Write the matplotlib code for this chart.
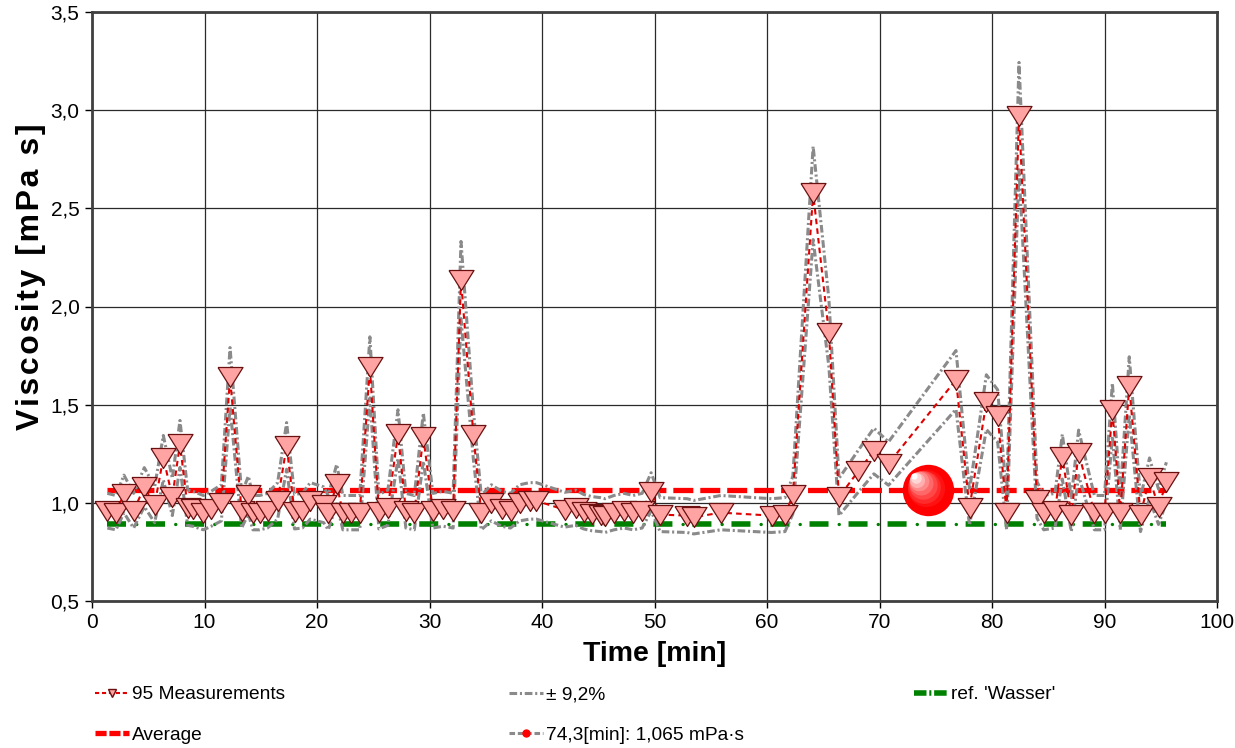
import numpy as np
import matplotlib.pyplot as plt
from matplotlib.lines import Line2D
from matplotlib.transforms import offset_copy

plt.rcParams['font.family'] = ['Liberation Sans', 'DejaVu Sans']
plt.rcParams['lines.scale_dashes'] = False

# Messzeitpunkte [min] und Viskositaet [mPa s]
zeit = [1.36, 2.13, 2.84, 3.7, 4.65, 5.57, 6.34, 7.14, 7.82, 8.5,
        8.95, 9.9, 10.6, 11.5, 12.27, 13.3, 13.9, 14.3, 14.9, 15.6,
        16.5, 17.3, 18.0, 18.7, 19.4, 20.6, 21.0, 21.75, 22.3, 23.0,
        23.8, 24.7, 25.5, 26.3, 27.2, 27.9, 28.65, 29.45, 30.3, 31.2,
        32.1, 32.8, 33.9, 34.6, 35.5, 36.4, 37.2, 38.0, 38.9, 39.5,
        42.0, 43.0, 43.7, 44.4, 45.2, 45.6, 46.4, 47.3, 48.1, 48.9,
        49.7, 50.5, 52.9, 53.5, 55.9, 60.4, 61.6, 62.3, 64.1, 65.5,
        66.4, 68.1, 69.5, 70.8, 76.8, 78.0, 79.5, 80.5, 81.3, 82.4,
        84.0, 84.6, 85.6, 86.25, 87.05, 87.7, 89.1, 90.0, 90.7, 91.4,
        92.2, 93.2, 94.0, 94.8, 95.5]
visko = [0.96, 0.95, 1.045, 0.96, 1.08, 0.99, 1.23, 1.03, 1.30, 0.975,
         0.97, 0.95, 0.97, 1.0, 1.64, 0.96, 1.04, 0.95, 0.95, 0.96,
         1.01, 1.29, 0.955, 0.96, 1.01, 0.99, 0.95, 1.095, 0.95, 0.95,
         0.95, 1.69, 0.955, 0.975, 1.35, 0.96, 0.95, 1.335, 0.96, 0.97,
         0.96, 2.135, 1.346, 0.95, 1.0, 0.97, 0.96, 1.0, 1.01, 1.01,
         0.965, 0.975, 0.955, 0.945, 0.94, 0.935, 0.95, 0.96, 0.95, 0.96,
         1.056, 0.94, 0.935, 0.927, 0.95, 0.935, 0.94, 1.04, 2.578, 1.866,
         1.03, 1.16, 1.264, 1.2, 1.626, 0.975, 1.513, 1.443, 0.95, 2.97,
         1.015, 0.95, 0.96, 1.235, 0.94, 1.255, 0.95, 0.95, 1.474, 0.95,
         1.597, 0.94, 1.125, 0.98, 1.105]
mittel = 1.065
wasser = 0.89
band = 0.092
t_punkt = 74.3

t = np.array(zeit)
v = np.array(visko)

fig = plt.figure(figsize=(12.35, 7.48), dpi=100)
ax = fig.add_axes([92 / 1235, 1 - 601 / 748, (1217 - 92) / 1235, (601 - 12) / 748])

# Referenz Wasser: dicke Striche + kleine Punkte
ax.plot([t.min(), t.max()], [wasser, wasser], color='#008000', lw=4.0,
        linestyle=(0, (13.7, 14.4)), solid_capstyle='butt', zorder=2)
ax.plot([t.min(), t.max()], [wasser, wasser], color='#008000', lw=2.4,
        linestyle=(7.1, (0.1, 28.0)), dash_capstyle='round', zorder=2)

# Mittelwert
ax.plot([t.min(), t.max()], [mittel, mittel], color='#ff0000', lw=3.8,
        linestyle=(0, (14.4, 5.0)), zorder=3)

# Toleranzband
for f in (1 + band, 1 - band):
    ax.plot(t, v * f, color='#8a8a8a', lw=2.2,
            linestyle=(0, (5.5, 2.0, 1.5, 2.0)), zorder=4)

# Messungen
dreieck = [(-1, 0.8), (1, 0.8), (0, -0.8), (-1, 0.8)]
ax.plot(t, v, color='#e00000', lw=1.5, linestyle=(0, (4, 3)), zorder=5)
ax.plot(t, v, linestyle='none', marker=dreieck, markersize=18,
        mfc='#ffa3a3', mec='#6b1010', mew=0.9, zorder=6)

# Kugel beim Mittelwert
ax.plot([t_punkt], [mittel], 'o', markersize=37, color='#ff0000', mew=0, zorder=7)
for i in range(1, 9):
    f = i / 8
    tr = offset_copy(ax.transData, fig=fig, x=-10 * f, y=10 * f, units='points')
    ax.plot([t_punkt], [mittel], 'o', markersize=30 * (1 - 0.85 * f),
            color=(1, f ** 1.3, f ** 1.3), mew=0, transform=tr, zorder=7 + i)

ax.set_xlim(0, 100)
ax.set_ylim(0.5, 3.5)
ax.set_xticks(range(0, 101, 10))
yt = np.arange(0.5, 3.51, 0.5)
ax.set_yticks(yt)
ax.set_yticklabels([f'{y:.1f}'.replace('.', ',') for y in yt])
ax.tick_params(direction='out', length=5, width=1, labelsize=15, pad=4)
ax.grid(color='#2a2a2a', lw=0.9)
ax.set_axisbelow(True)
for s in ax.spines.values():
    s.set_color('#404040')
    s.set_linewidth(2)

ax.set_xlabel('Time [min]', fontsize=20.5, fontweight='bold', labelpad=6)
# y-Beschriftung leicht gesperrt wie im Original
ylab = '\u200a'.join('Viscosity [mPa s]')
fig.text(31 / 1235, 1 - 277 / 748, ylab, rotation=90, ha='center', va='center',
         fontsize=23, fontweight='bold')

# Legende
h_mess = Line2D([], [], color='#e00000', lw=1.5, linestyle=(0, (3, 2)),
                marker='v', markersize=6, mfc='#ffa3a3', mec='#6b1010')
h_mittel = Line2D([], [], color='#ff0000', lw=3.8, linestyle=(0, (8, 2)))
h_band = Line2D([], [], color='#8a8a8a', lw=2.2, linestyle=(0, (5.5, 2.0, 1.5, 2.0)))
h_punkt = Line2D([], [], color='#8a8a8a', lw=2.2, linestyle=(0, (4, 2)),
                 marker='o', markersize=5, mfc='#ff0000', mec='#ff0000')
h_wasser = Line2D([], [], color='#008000', lw=4.0, linestyle=(0, (9, 2, 1.5, 2)))

opts = dict(frameon=False, fontsize=13.8, handlelength=1.75, handletextpad=0.2,
            labelspacing=1.2, borderpad=0, borderaxespad=0, loc='upper left')
fig.legend([h_mess, h_mittel], ['95 Measurements', 'Average'],
           bbox_to_anchor=(95 / 1235, 1 - 686 / 748), **opts)
fig.legend([h_band, h_punkt], ['± 9,2%', '74,3[min]: 1,065 mPa·s'],
           bbox_to_anchor=(509 / 1235, 1 - 686 / 748), **opts)
fig.legend([h_wasser], ["ref. 'Wasser'"],
           bbox_to_anchor=(914 / 1235, 1 - 686 / 748), **opts)

fig.savefig('out.png', dpi=100)
